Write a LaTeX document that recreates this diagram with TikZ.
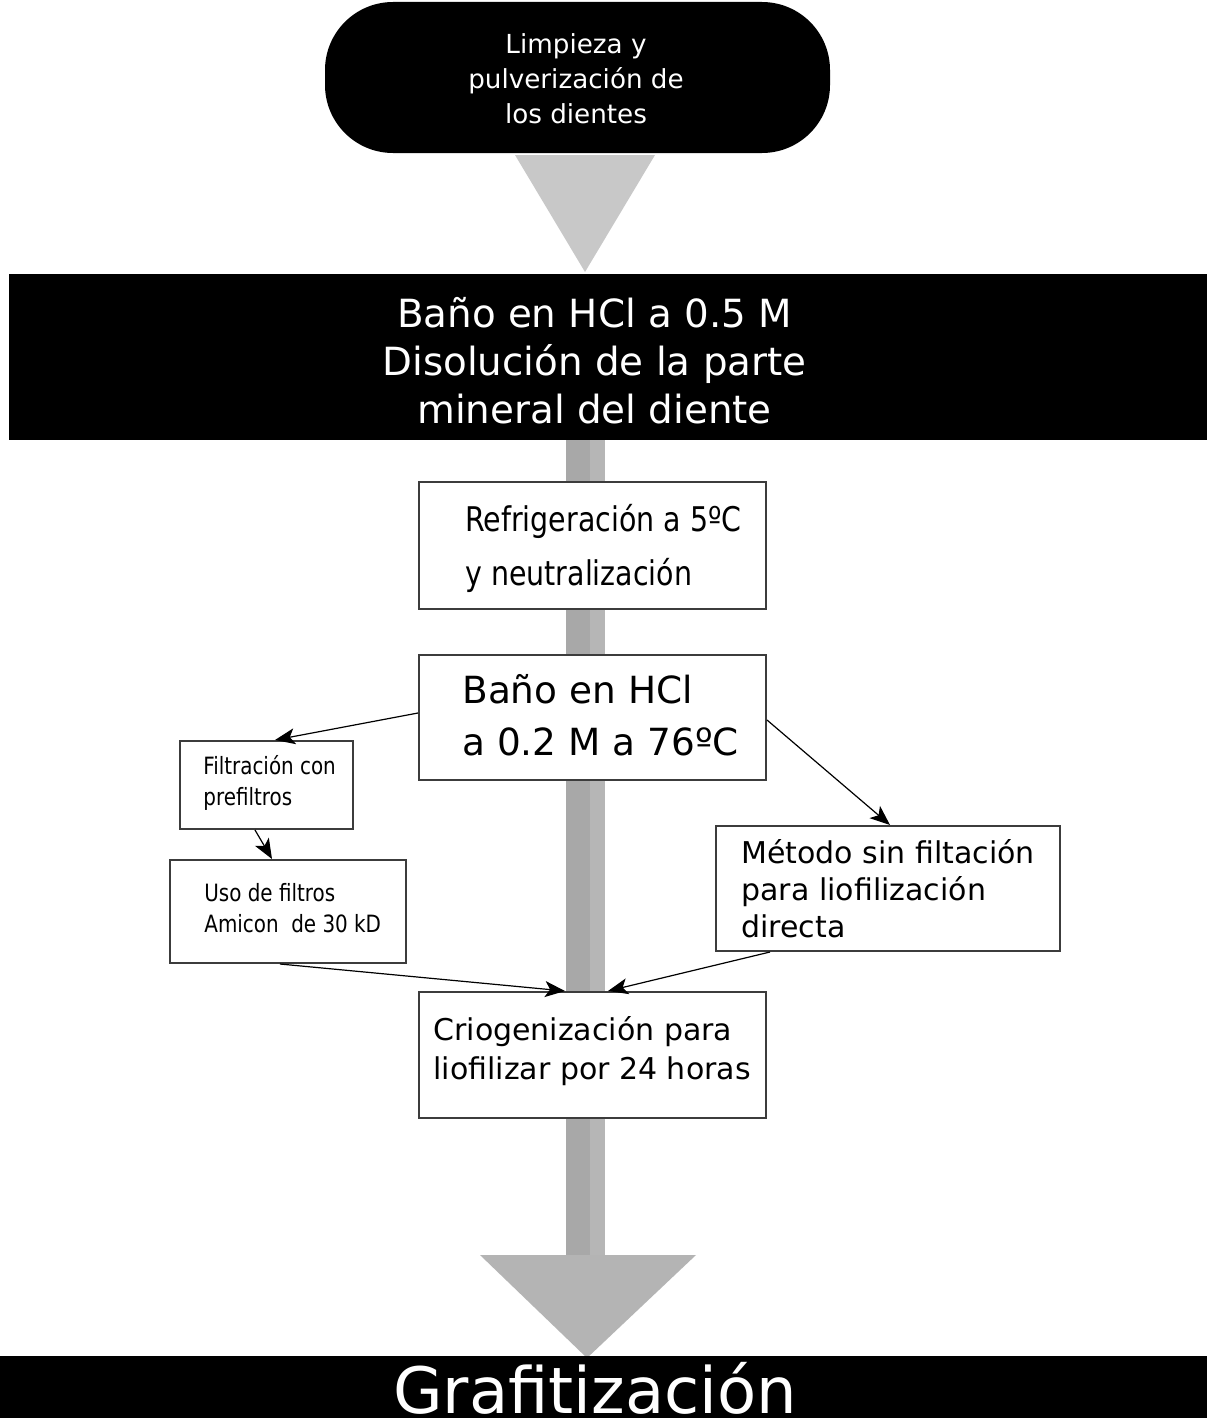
\documentclass[tikz,border=0pt]{standalone}
\usepackage{fontspec}
\setmainfont{DejaVu Sans}
\newfontfamily\condensada[FakeStretch=0.93]{DejaVu Sans Condensed}
\usetikzlibrary{arrows.meta}
\definecolor{grisclaro}{RGB}{200,200,200}
\definecolor{grisbarra}{RGB}{168,168,168}
\definecolor{grisbrillo}{RGB}{182,182,182}
\definecolor{grisflecha}{RGB}{180,180,180}
\definecolor{borde}{RGB}{60,60,60}
\tikzset{
	caja/.style={draw=borde, line width=1pt, fill=white, inner sep=0pt},
	texto/.style={inner sep=0pt, align=left, anchor=west},
	flecha/.style={line width=0.6pt, -{Stealth[length=10pt,width=8pt,inset=2.5pt]}}
}
\begin{document}
\begin{tikzpicture}[x=0.5pt,y=0.5pt,yscale=-1,xscale=1]
	\useasboundingbox (0,0) rectangle (1207,1418);
	\clip (0,0) rectangle (1207,1418);
	\fill[white] (0,0) rectangle (1207,1418);
	\node[fill=black, rounded corners=34pt, minimum width=252.5pt, minimum height=75.5pt, inner sep=0pt] (limpieza) at (577.5,77.5) {};
	\node[inner sep=0pt, align=center, text=white, font=\fontsize{13.1pt}{17.5pt}\selectfont] (t_limpieza) at (576,79) {Limpieza y\\pulverización de\\los dientes};
	\fill[grisclaro] (515,155) -- (655,155) -- (585,272) -- cycle;
	\node[fill=black, minimum width=599pt, minimum height=83pt, inner sep=0pt] (bano1) at (608,357) {};
	\node[inner sep=0pt, align=center, text=white, font=\fontsize{19.4pt}{24pt}\selectfont] (t_bano1) at (594.5,361) {Baño en HCl a 0.5 M\\Disolución de la parte\\mineral del diente};
	\fill[grisbarra] (566,440) rectangle (605,1258);
	\fill[grisbrillo] (590,440) rectangle (605,1258);
	\fill[grisflecha] (480,1255) -- (696,1255) -- (587,1358) -- cycle;
	\node[caja, minimum width=173.5pt, minimum height=63.5pt] (refri) at (592.5,545.5) {};
	\node[texto, font=\condensada\fontsize{17pt}{27pt}\selectfont] (t_refri) at (465,548) {Refrigeración a 5ºC\\y neutralización};
	\node[caja, minimum width=173.5pt, minimum height=62.5pt] (bano2) at (592.5,717.5) {};
	\node[texto, font=\fontsize{18.7pt}{26pt}\selectfont] (t_bano2) at (462,715) {Baño en HCl\\a 0.2 M a 76ºC};
	\node[caja, minimum width=86.5pt, minimum height=44pt] (filtra) at (266.5,785) {};
	\node[texto, font=\condensada\fontsize{11.9pt}{15.5pt}\selectfont] (t_filtra) at (203,783) {Filtración con\\prefiltros};
	\node[caja, minimum width=118pt, minimum height=51.5pt] (amicon) at (288,911.5) {};
	\node[texto, font=\condensada\fontsize{11.9pt}{15.5pt}\selectfont] (t_amicon) at (204,908) {Uso de filtros\\Amicon\ \ de 30 kD};
	\node[caja, minimum width=172pt, minimum height=62.5pt] (metodo) at (888,888.5) {};
	\node[texto, font=\fontsize{15pt}{18.5pt}\selectfont] (t_metodo) at (741,889) {Método sin filtación\\para liofilización\\directa};
	\node[caja, minimum width=173.5pt, minimum height=63pt] (crio) at (592.5,1055) {};
	\node[texto, font=\fontsize{15pt}{19.5pt}\selectfont] (t_crio) at (433,1051) {Criogenización para\\liofilizar por 24 horas};
	\draw[flecha] ([yshift=-2.25pt]bano2.west) -- ([xshift=4.25pt]filtra.north);
	\draw[flecha] ([xshift=-5.75pt]filtra.south) -- ([xshift=-8pt]amicon.north);
	\draw[flecha] ([yshift=1.25pt]bano2.east) -- ([xshift=1pt]metodo.north);
	\draw[flecha] ([xshift=-4pt]amicon.south) -- ([xshift=-13.75pt]crio.north);
	\draw[flecha] ([xshift=-59pt]metodo.south) -- ([xshift=7.75pt]crio.north);
	\node[fill=black, minimum width=603.5pt, minimum height=31pt, inner sep=0pt] (grafito) at (603.5,1387) {};
	\node[inner sep=0pt, anchor=base, text=white, font=\fontsize{32pt}{40pt}\selectfont] (t_grafito) at (595,1413) {Grafitización};
\end{tikzpicture}
\end{document}
